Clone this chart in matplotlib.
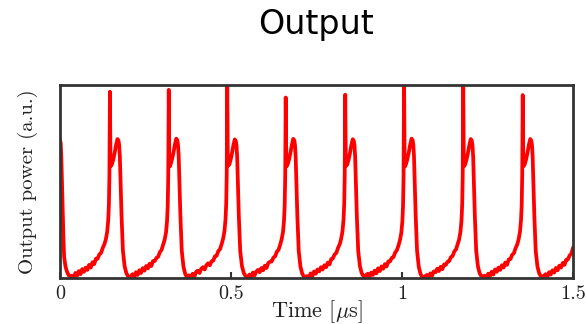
import numpy as np
import matplotlib
matplotlib.use("Agg")
import matplotlib.pyplot as plt

# ---- trace data (time in microseconds, power normalised to the axis range) ----
# opening segment: tail of the pulse that started before t = 0
lead_time = [0.000, 0.002, 0.004, 0.006, 0.008, 0.010, 0.012, 0.016, 0.020, 0.025, 0.030]
lead_power = [0.715, 0.700, 0.620, 0.480, 0.350, 0.210, 0.110, 0.060, 0.035, 0.015, 0.004]

# times of the sharp spikes
pulse_times = [0.146, 0.318, 0.489, 0.660, 0.834, 1.006, 1.179, 1.353]

# sample instants of every pulse, relative to its spike
pulse_offsets = [-0.112, -0.106, -0.101, -0.096, -0.091, -0.086, -0.081, -0.076,
                 -0.071, -0.066, -0.061, -0.056, -0.051, -0.046, -0.041, -0.036,
                 -0.031, -0.026, -0.021, -0.016, -0.012, -0.008, -0.005, -0.003,
                 -0.0015, 0.000, 0.0015, 0.003, 0.006, 0.010, 0.014, 0.018,
                 0.022, 0.025, 0.027, 0.029, 0.031, 0.034, 0.038, 0.043,
                 0.048, 0.052, 0.056]

# recorded power around each spike
pulse_1 = [0.012, 0.000, 0.026, 0.012, 0.036, 0.020, 0.046, 0.032, 0.054, 0.042, 0.068,
           0.054, 0.082, 0.072, 0.100, 0.100, 0.122, 0.130, 0.156, 0.176, 0.200, 0.240,
           0.300, 0.380, 0.530, 0.965, 0.640, 0.580, 0.590, 0.615, 0.650, 0.690, 0.720,
           0.712, 0.690, 0.630, 0.510, 0.320, 0.140, 0.060, 0.025, 0.012, 0.004]
pulse_2 = [0.004, 0.020, 0.006, 0.030, 0.016, 0.040, 0.026, 0.051, 0.038, 0.062, 0.050,
           0.074, 0.062, 0.088, 0.088, 0.104, 0.110, 0.134, 0.146, 0.174, 0.198, 0.236,
           0.295, 0.375, 0.525, 0.975, 0.635, 0.578, 0.592, 0.618, 0.652, 0.692, 0.722,
           0.714, 0.692, 0.635, 0.515, 0.325, 0.142, 0.058, 0.022, 0.008, 0.002]
pulse_3 = [0.014, 0.002, 0.022, 0.008, 0.032, 0.038, 0.026, 0.048, 0.056, 0.044, 0.066,
           0.076, 0.066, 0.086, 0.090, 0.112, 0.116, 0.140, 0.150, 0.178, 0.204, 0.244,
           0.305, 0.385, 0.535, 1.030, 0.645, 0.582, 0.588, 0.612, 0.648, 0.688, 0.718,
           0.710, 0.688, 0.628, 0.505, 0.315, 0.138, 0.062, 0.028, 0.014, 0.006]
pulse_4 = [0.002, 0.018, 0.004, 0.028, 0.014, 0.034, 0.042, 0.030, 0.052, 0.040, 0.064,
           0.052, 0.078, 0.084, 0.086, 0.106, 0.112, 0.136, 0.146, 0.174, 0.200, 0.238,
           0.298, 0.378, 0.528, 0.935, 0.638, 0.579, 0.591, 0.616, 0.651, 0.691, 0.721,
           0.713, 0.691, 0.632, 0.512, 0.322, 0.141, 0.059, 0.024, 0.010, 0.003]
pulse_5 = [0.010, 0.000, 0.024, 0.010, 0.034, 0.022, 0.044, 0.034, 0.056, 0.044, 0.066,
           0.056, 0.080, 0.070, 0.098, 0.102, 0.122, 0.130, 0.156, 0.176, 0.202, 0.242,
           0.302, 0.382, 0.532, 0.950, 0.642, 0.581, 0.589, 0.614, 0.649, 0.689, 0.719,
           0.711, 0.689, 0.629, 0.508, 0.318, 0.139, 0.061, 0.026, 0.013, 0.005]
pulse_6 = [0.014, 0.022, 0.006, 0.028, 0.016, 0.038, 0.024, 0.050, 0.036, 0.060, 0.048,
           0.072, 0.060, 0.086, 0.086, 0.104, 0.108, 0.132, 0.144, 0.170, 0.196, 0.234,
           0.292, 0.372, 0.522, 1.030, 0.636, 0.578, 0.592, 0.618, 0.652, 0.692, 0.722,
           0.714, 0.692, 0.634, 0.514, 0.324, 0.142, 0.058, 0.022, 0.008, 0.002]
pulse_7 = [0.008, 0.016, 0.000, 0.024, 0.012, 0.034, 0.030, 0.048, 0.036, 0.058, 0.046,
           0.070, 0.068, 0.084, 0.088, 0.108, 0.114, 0.138, 0.148, 0.176, 0.200, 0.240,
           0.300, 0.380, 0.530, 1.030, 0.640, 0.580, 0.590, 0.615, 0.650, 0.690, 0.720,
           0.712, 0.690, 0.630, 0.510, 0.320, 0.140, 0.060, 0.025, 0.012, 0.004]
pulse_8 = [0.012, 0.000, 0.022, 0.008, 0.032, 0.018, 0.044, 0.032, 0.054, 0.042, 0.066,
           0.054, 0.080, 0.068, 0.096, 0.098, 0.120, 0.128, 0.154, 0.174, 0.200, 0.240,
           0.300, 0.380, 0.530, 0.948, 0.640, 0.580, 0.590, 0.615, 0.650, 0.690, 0.720,
           0.712, 0.690, 0.630, 0.510, 0.320, 0.140, 0.060, 0.025, 0.012, 0.004]
pulse_power = [pulse_1, pulse_2, pulse_3, pulse_4, pulse_5, pulse_6, pulse_7, pulse_8]

# closing segment: build-up toward the next pulse
tail_time = [1.414, 1.420, 1.425, 1.430, 1.435, 1.440, 1.445, 1.450, 1.455, 1.460,
             1.465, 1.470, 1.475, 1.480, 1.485, 1.490, 1.495, 1.500]
tail_power = [0.010, 0.020, 0.006, 0.030, 0.018, 0.040, 0.028, 0.052, 0.040, 0.064,
              0.054, 0.078, 0.068, 0.094, 0.096, 0.116, 0.126, 0.155]

x_ticks = [0, 0.5, 1, 1.5]
x_tick_labels = ["0", "0.5", "1", "1.5"]

# ---- assemble the full trace ----
time = list(lead_time)
power = list(lead_power)
offsets = np.array(pulse_offsets)
for t0, values in zip(pulse_times, pulse_power):
    time.extend(t0 + offsets)
    power.extend(values)
time.extend(tail_time)
power.extend(tail_power)

# ---- figure ----
plt.rcParams["mathtext.fontset"] = "cm"
plt.rcParams["axes.formatter.use_mathtext"] = True

W, H = 586, 324
fig = plt.figure(figsize=(W / 100, H / 100), dpi=100)
ax = fig.add_axes([60 / W, 46 / H, 513 / W, 193 / H])

ax.plot(time, power, color="#ff0000", lw=2.7, solid_joinstyle="round")

ax.set_xlim(0, 1.5)
ax.set_ylim(0, 1)

spine_col = "#333333"
for s in ax.spines.values():
    s.set_color(spine_col)
    s.set_linewidth(2.0)

ax.set_yticks([])
ax.set_xticks(x_ticks)
ax.set_xticklabels(x_tick_labels, fontfamily="cmr10", fontsize=14.5)
ax.tick_params(axis="x", direction="in", length=4.5, width=1.5, color=spine_col,
               pad=5, labelcolor="#222222")

ax.set_xlabel(r"Time [$\mu$s]", fontfamily="cmr10", fontsize=16, color="#222222")
ax.xaxis.set_label_coords(0.5, -0.105)
ax.set_ylabel("Output power (a.u.)", fontfamily="cmr10", fontsize=15, color="#222222")
ax.yaxis.set_label_coords(-0.043, 0.5)

ax.set_title("Output", fontfamily="DejaVu Sans", fontsize=24, pad=37)

fig.savefig("out.png", dpi=100)
